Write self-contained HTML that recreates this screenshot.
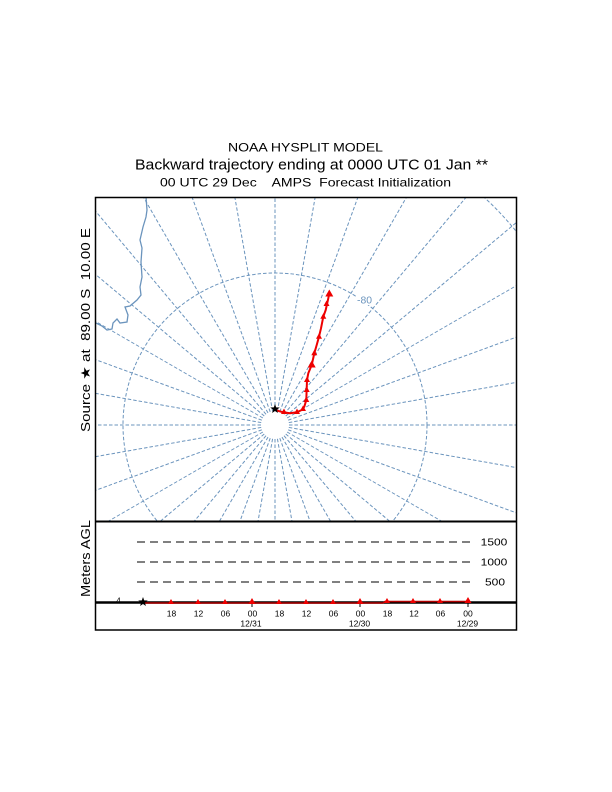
<!DOCTYPE html>
<html><head><meta charset="utf-8"><style>
html,body{margin:0;padding:0;background:#fff;width:612px;height:792px;overflow:hidden;}
svg{display:block;}
text{font-family:"Liberation Sans",Arial,sans-serif;}
</style></head><body>
<svg width="612" height="792" viewBox="0 0 612 792" xmlns="http://www.w3.org/2000/svg">
<rect x="0" y="0" width="612" height="792" fill="#fff"/>
<!-- titles -->
<text x="305.5" y="151.7" font-size="12" text-anchor="middle" textLength="155" lengthAdjust="spacingAndGlyphs">NOAA HYSPLIT MODEL</text>
<text x="311.5" y="169.3" font-size="14.5" text-anchor="middle" textLength="353" lengthAdjust="spacingAndGlyphs">Backward trajectory ending at 0000 UTC 01 Jan **</text>
<text x="305.5" y="186.7" font-size="12" text-anchor="middle" textLength="291" lengthAdjust="spacingAndGlyphs" xml:space="preserve">00 UTC 29 Dec    AMPS  Forecast Initialization</text>

<defs><clipPath id="mapclip"><rect x="95.5" y="197.5" width="421" height="323.5"/></clipPath></defs>
<g clip-path="url(#mapclip)" fill="none" stroke="#6b94bd" stroke-width="1" stroke-dasharray="3.5,2">
  <g>
    <line x1="289" y1="425" x2="610" y2="425" transform="rotate(0 275 425)"/>
    <line x1="289" y1="425" x2="610" y2="425" transform="rotate(10 275 425)"/>
    <line x1="289" y1="425" x2="610" y2="425" transform="rotate(20 275 425)"/>
    <line x1="289" y1="425" x2="610" y2="425" transform="rotate(30 275 425)"/>
    <line x1="289" y1="425" x2="610" y2="425" transform="rotate(40 275 425)"/>
    <line x1="289" y1="425" x2="610" y2="425" transform="rotate(50 275 425)"/>
    <line x1="289" y1="425" x2="610" y2="425" transform="rotate(60 275 425)"/>
    <line x1="289" y1="425" x2="610" y2="425" transform="rotate(70 275 425)"/>
    <line x1="289" y1="425" x2="610" y2="425" transform="rotate(80 275 425)"/>
    <line x1="289" y1="425" x2="610" y2="425" transform="rotate(90 275 425)"/>
    <line x1="289" y1="425" x2="610" y2="425" transform="rotate(100 275 425)"/>
    <line x1="289" y1="425" x2="610" y2="425" transform="rotate(110 275 425)"/>
    <line x1="289" y1="425" x2="610" y2="425" transform="rotate(120 275 425)"/>
    <line x1="289" y1="425" x2="610" y2="425" transform="rotate(130 275 425)"/>
    <line x1="289" y1="425" x2="610" y2="425" transform="rotate(140 275 425)"/>
    <line x1="289" y1="425" x2="610" y2="425" transform="rotate(150 275 425)"/>
    <line x1="289" y1="425" x2="610" y2="425" transform="rotate(160 275 425)"/>
    <line x1="289" y1="425" x2="610" y2="425" transform="rotate(170 275 425)"/>
    <line x1="289" y1="425" x2="610" y2="425" transform="rotate(180 275 425)"/>
    <line x1="289" y1="425" x2="610" y2="425" transform="rotate(190 275 425)"/>
    <line x1="289" y1="425" x2="610" y2="425" transform="rotate(200 275 425)"/>
    <line x1="289" y1="425" x2="610" y2="425" transform="rotate(210 275 425)"/>
    <line x1="289" y1="425" x2="610" y2="425" transform="rotate(220 275 425)"/>
    <line x1="289" y1="425" x2="610" y2="425" transform="rotate(230 275 425)"/>
    <line x1="289" y1="425" x2="610" y2="425" transform="rotate(240 275 425)"/>
    <line x1="289" y1="425" x2="610" y2="425" transform="rotate(250 275 425)"/>
    <line x1="289" y1="425" x2="610" y2="425" transform="rotate(260 275 425)"/>
    <line x1="289" y1="425" x2="610" y2="425" transform="rotate(270 275 425)"/>
    <line x1="289" y1="425" x2="610" y2="425" transform="rotate(280 275 425)"/>
    <line x1="289" y1="425" x2="610" y2="425" transform="rotate(290 275 425)"/>
    <line x1="289" y1="425" x2="610" y2="425" transform="rotate(300 275 425)"/>
    <line x1="289" y1="425" x2="610" y2="425" transform="rotate(310 275 425)"/>
    <line x1="289" y1="425" x2="610" y2="425" transform="rotate(320 275 425)"/>
    <line x1="289" y1="425" x2="610" y2="425" transform="rotate(330 275 425)"/>
    <line x1="289" y1="425" x2="610" y2="425" transform="rotate(340 275 425)"/>
    <line x1="289" y1="425" x2="610" y2="425" transform="rotate(350 275 425)"/>
  </g>
  <circle cx="275" cy="425" r="152"/>
  <path d="M 466 182 A 310 310 0 0 1 560 304"/>
  <polyline stroke-dasharray="none" stroke-width="1.3" points="146,197 147,210 146,217 143,227 140,240 142,248 141,262 142,277 140,287 141,295 137,300 130,306 125,307 128,315 127,322 120,323 117,319 113,323 112,329 107,330 102,326 96,323 93,322"/>
</g>
<rect x="356" y="295" width="17" height="10" fill="#fff"/>
<text x="364.5" y="303.5" font-size="10.5" fill="#6b94bd" text-anchor="middle" textLength="15" lengthAdjust="spacingAndGlyphs">-80</text>

<!-- trajectory -->
<polyline fill="none" stroke="#ee0000" stroke-width="2" stroke-linejoin="round" points="275,410 283.3,412.3 290,413.3 296.7,412.3 301.7,410 304.3,406.7 306.3,400 306.7,388.3 307,380 308.3,373.3 311.7,365 314.3,353.3 316.7,345 319,336.7 321,328.3 323.3,316.7 325.7,310 328.3,298.3 329.3,293.3"/>
<g fill="#ee0000">
  <polygon points="0,-3.5 -3,2 3,2" transform="translate(284,412)"/>
  <polygon points="0,-3.5 -3,2 3,2" transform="translate(297,412)"/>
  <polygon points="0,-3.5 -3,2 3,2" transform="translate(303,409)"/>
  <polygon points="0,-3.5 -3,2 3,2" transform="translate(306.3,400)"/>
  <polygon points="0,-3.5 -3,2 3,2" transform="translate(306.7,390)"/>
  <polygon points="0,-3.5 -3,2 3,2" transform="translate(307,380)"/>
  <polygon points="0,-4.5 -4,2.5 4,2.5" transform="translate(311.7,365)"/>
  <polygon points="0,-3.5 -3,2 3,2" transform="translate(314.3,353.3)"/>
  <polygon points="0,-3.5 -3,2 3,2" transform="translate(319,336.7)"/>
  <polygon points="0,-3.5 -3,2 3,2" transform="translate(323.3,316.7)"/>
  <polygon points="0,-3.5 -3,2 3,2" transform="translate(326.5,304)"/>
  <polygon points="0,-4.5 -4,2.5 4,2.5" transform="translate(329.3,294)"/>
</g>
<polygon fill="#000" transform="translate(275,409)" points="0,-5 1.176,-1.618 4.755,-1.545 1.902,0.618 2.939,4.045 0,2 -2.939,4.045 -1.902,0.618 -4.755,-1.545 -1.176,-1.618"/>

<!-- frames -->
<rect x="95.5" y="197.5" width="421" height="432.5" fill="none" stroke="#000" stroke-width="1.5"/>
<line x1="95" y1="521.5" x2="517" y2="521.5" stroke="#000" stroke-width="2"/>

<!-- side labels -->
<text transform="translate(90,432) rotate(-90)" font-size="13" textLength="204" lengthAdjust="spacingAndGlyphs" xml:space="preserve">Source ★ at  89.00 S  10.00 E</text>
<text transform="translate(90,597) rotate(-90)" font-size="13" textLength="77" lengthAdjust="spacingAndGlyphs">Meters AGL</text>

<!-- height panel -->
<g stroke="#000" stroke-width="1" stroke-dasharray="8,5">
  <line x1="137" y1="542" x2="474" y2="542"/>
  <line x1="137" y1="562" x2="474" y2="562"/>
  <line x1="137" y1="582" x2="474" y2="582"/>
</g>
<g font-size="10.5" fill="#000">
  <text x="480.7" y="545.7" textLength="26.6" lengthAdjust="spacingAndGlyphs">1500</text>
  <text x="480.7" y="565.7" textLength="26.6" lengthAdjust="spacingAndGlyphs">1000</text>
  <text x="485" y="585.7" textLength="20" lengthAdjust="spacingAndGlyphs">500</text>
</g>
<line x1="95" y1="602.5" x2="517" y2="602.5" stroke="#000" stroke-width="2.5"/>
<g stroke="#000" stroke-width="1">
  <line x1="252" y1="603" x2="252" y2="607"/>
  <line x1="360" y1="603" x2="360" y2="607"/>
  <line x1="468" y1="603" x2="468" y2="607"/>
</g>
<text x="118.5" y="603.3" font-size="8" text-anchor="middle">4</text>
<polyline fill="none" stroke="#b00000" stroke-width="1.5" points="143,603 383,603 385,601.5 468,601.5"/>
<g fill="#ee0000">
  <polygon points="0,-4 -3,1 3,1" transform="translate(171,603)"/>
  <polygon points="0,-4 -3,1 3,1" transform="translate(198,603)"/>
  <polygon points="0,-4 -3,1 3,1" transform="translate(225,603)"/>
  <polygon points="0,-5 -3.5,1 3.5,1" transform="translate(252,603)"/>
  <polygon points="0,-4 -3,1 3,1" transform="translate(279,603)"/>
  <polygon points="0,-4 -3,1 3,1" transform="translate(306,603)"/>
  <polygon points="0,-4 -3,1 3,1" transform="translate(333,603)"/>
  <polygon points="0,-5 -3.5,1 3.5,1" transform="translate(360,603)"/>
  <polygon points="0,-4 -3,1 3,1" transform="translate(387,602)"/>
  <polygon points="0,-4 -3,1 3,1" transform="translate(413,602)"/>
  <polygon points="0,-4 -3,1 3,1" transform="translate(440,602)"/>
  <polygon points="0,-5 -3.5,1 3.5,1" transform="translate(468,602)"/>
</g>
<polygon fill="#000" transform="translate(143,602)" points="0,-5 1.176,-1.618 4.755,-1.545 1.902,0.618 2.939,4.045 0,2 -2.939,4.045 -1.902,0.618 -4.755,-1.545 -1.176,-1.618"/>
<g font-size="8.5" fill="#000" text-anchor="middle">
  <text x="171.5" y="616.7">18</text>
  <text x="198.5" y="616.7">12</text>
  <text x="225.5" y="616.7">06</text>
  <text x="252.5" y="616.7">00</text>
  <text x="279.5" y="616.7">18</text>
  <text x="306.5" y="616.7">12</text>
  <text x="333.5" y="616.7">06</text>
  <text x="360.5" y="616.7">00</text>
  <text x="387.5" y="616.7">18</text>
  <text x="414" y="616.7">12</text>
  <text x="440.5" y="616.7">06</text>
  <text x="468" y="616.7">00</text>
  <text x="251" y="626.7">12/31</text>
  <text x="359.5" y="626.7">12/30</text>
  <text x="467.5" y="626.7">12/29</text>
</g>
</svg>
</body></html>
